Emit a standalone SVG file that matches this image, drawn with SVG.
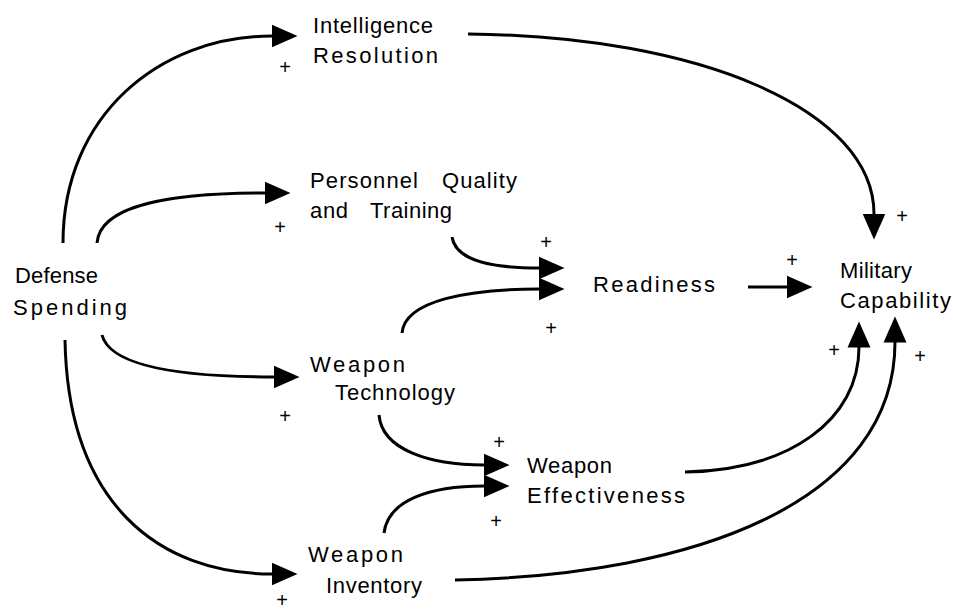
<svg xmlns="http://www.w3.org/2000/svg" width="954" height="612" viewBox="0 0 954 612">
<style>
  .lbl { font-family: "Liberation Sans", Arial, sans-serif; font-size: 22px; fill: #000; }
  .pl { font-family: "Liberation Sans", Arial, sans-serif; font-size: 20px; fill: #000; text-anchor: middle; }
  .ln { fill: none; stroke: #000; stroke-width: 3; marker-end: url(#ah); }
</style>
<defs>
  <marker id="ah" markerUnits="userSpaceOnUse" viewBox="0 -12 27 24" markerWidth="27" markerHeight="24" refX="0.5" refY="0" orient="auto">
    <path d="M0,-11.5 L26,0 L0,11.5 z" fill="#000"/>
  </marker>
</defs>
<rect width="954" height="612" fill="#fff"/>
<g id="connectors">
  <path class="ln" d="M63,243 C63,115 160,36 272,36"/>
  <path class="ln" d="M97,243 C100,205 170,193 265,193"/>
  <path class="ln" d="M102,335 C110,366 180,377 274,377"/>
  <path class="ln" d="M65,340 C68,505 160,574 272,574"/>
  <path class="ln" d="M468,34 C700,36 874,110 874,214"/>
  <path class="ln" d="M452,237 C456,262 495,268 539,268"/>
  <path class="ln" d="M402,333 C405,300 470,289 539,289"/>
  <path class="ln" d="M748,287 L787,287"/>
  <path class="ln" d="M379,415 C382,450 430,465 484,465"/>
  <path class="ln" d="M384,533 C388,500 430,486 484,486"/>
  <path class="ln" d="M685,472 C790,470 859,420 859,347"/>
  <path class="ln" d="M455,580 C700,575 895,500 895,342"/>
</g>
<g id="polarity">
  <text class="pl" x="285" y="74">+</text>
  <text class="pl" x="280" y="234">+</text>
  <text class="pl" x="902" y="223">+</text>
  <text class="pl" x="546" y="249">+</text>
  <text class="pl" x="792" y="267">+</text>
  <text class="pl" x="551" y="335">+</text>
  <text class="pl" x="834" y="357">+</text>
  <text class="pl" x="920" y="363">+</text>
  <text class="pl" x="499" y="449">+</text>
  <text class="pl" x="496" y="528">+</text>
  <text class="pl" x="285" y="423">+</text>
  <text class="pl" x="282" y="607">+</text>
</g>
<g id="intelligence-resolution">
  <text class="lbl" x="313" y="33" textLength="120" lengthAdjust="spacing">Intelligence</text>
  <text class="lbl" x="313" y="63" textLength="125" lengthAdjust="spacing">Resolution</text>
</g>
<g id="personnel-quality">
  <text class="lbl" x="310" y="188"><tspan textLength="108" lengthAdjust="spacing">Personnel</tspan> <tspan x="442" textLength="75" lengthAdjust="spacing">Quality</tspan></text>
  <text class="lbl" x="310" y="218"><tspan textLength="38" lengthAdjust="spacing">and</tspan> <tspan x="370" textLength="82" lengthAdjust="spacing">Training</tspan></text>
</g>
<g id="defense-spending">
  <text class="lbl" x="15" y="283" textLength="83" lengthAdjust="spacing">Defense</text>
  <text class="lbl" x="13" y="315" textLength="114" lengthAdjust="spacing">Spending</text>
</g>
<g id="readiness">
  <text class="lbl" x="593" y="292" textLength="122" lengthAdjust="spacing">Readiness</text>
</g>
<g id="military-capability">
  <text class="lbl" x="840" y="278" textLength="72" lengthAdjust="spacing">Military</text>
  <text class="lbl" x="840" y="308" textLength="111" lengthAdjust="spacing">Capability</text>
</g>
<g id="weapon-technology">
  <text class="lbl" x="310" y="372" textLength="95" lengthAdjust="spacing">Weapon</text>
  <text class="lbl" x="335" y="400" textLength="120" lengthAdjust="spacing">Technology</text>
</g>
<g id="weapon-effectiveness">
  <text class="lbl" x="527" y="473" textLength="85" lengthAdjust="spacing">Weapon</text>
  <text class="lbl" x="527" y="503" textLength="158" lengthAdjust="spacing">Effectiveness</text>
</g>
<g id="weapon-inventory">
  <text class="lbl" x="308" y="562" textLength="95" lengthAdjust="spacing">Weapon</text>
  <text class="lbl" x="326" y="593" textLength="96" lengthAdjust="spacing">Inventory</text>
</g>
</svg>
